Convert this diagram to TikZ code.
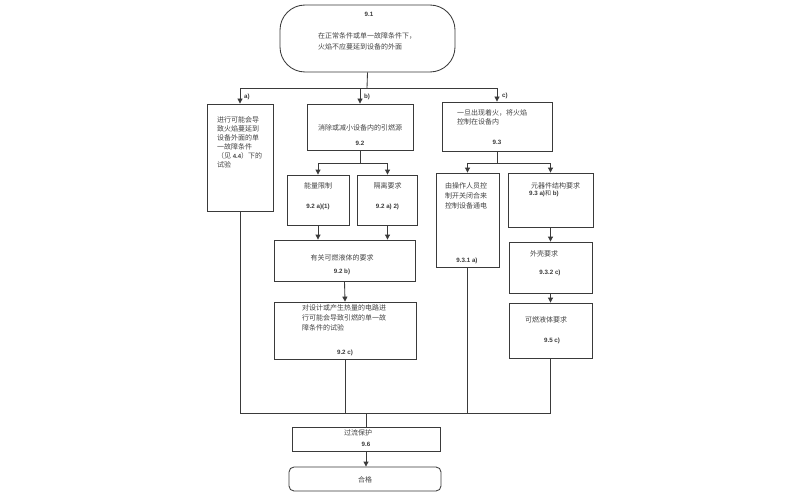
\documentclass[tikz,border=0pt]{standalone}
\usepackage{fontspec}
\setmainfont{Liberation Sans}
\newfontfamily\cjk{Noto Sans CJK SC}
\usetikzlibrary{arrows.meta}
\definecolor{lnc}{HTML}{3A3A3A}
\definecolor{txc}{HTML}{444444}
\begin{document}
\begin{tikzpicture}[x=1pt,y=-1pt,
 box/.style={draw=lnc,line width=0.85pt,rectangle,inner sep=0pt},
 conn/.style={draw=lnc,line width=0.85pt},
 arr/.style={conn,-{Triangle[length=5pt,width=5pt]}},
 zh/.style={text=txc,font=\cjk\fontsize{7}{10}\selectfont,inner sep=0pt,align=left},
 num/.style={text=lnc,font=\bfseries\fontsize{6.2}{7}\selectfont,inner sep=0pt},
]
\useasboundingbox (0,0) rectangle (800,500);
\fill[white] (0,0) rectangle (800,500);

% top
\node[box,rounded corners=25pt,minimum width=175pt,minimum height=67pt] (t91) at (367.5,38.5) {};
\node[num] (t91n) at (369,14) {9.1};
\node[zh,anchor=west,font=\cjk\fontsize{7}{10.5}\selectfont] (t91t) at (318,41.5) {在正常条件或单一故障条件下，\\火焰不应蔓延到设备的外面};

% level 1 boxes
\node[box,minimum width=66pt,minimum height=107pt] (ba) at (240,157.5) {};
\node[zh,anchor=west,font=\cjk\fontsize{7}{9}\selectfont] (bat) at (217,142.5) {进行可能会导\\致火焰蔓延到\\设备外面的单\\一故障条件\\（见 {\rmfamily\bfseries\fontsize{6}{9}\selectfont 4.4}）下的\\试验};

\node[box,minimum width=106pt,minimum height=46pt] (bb) at (360,127) {};
\node[zh] (bbt) at (360,128) {消除或减小设备内的引燃源};
\node[num] (bbn) at (360,143) {9.2};

\node[box,minimum width=110pt,minimum height=49pt] (bc) at (497,126.5) {};
\node[zh,anchor=west,font=\cjk\fontsize{7}{9}\selectfont] (bct) at (457,117.5) {一旦出现着火，将火焰\\控制在设备内};
\node[num] (bcn) at (497,142) {9.3};

% labels
\node[num,anchor=west] (la) at (244,97) {a)};
\node[num,anchor=west] (lb) at (364,97) {b)};
\node[num,anchor=west] (lc) at (502,96) {c)};

% junctions
\coordinate (j1) at (367,88);
\coordinate (jb) at (360,163);
\coordinate (jc) at (497,163);
\coordinate (bl) at (240,413);

\draw[conn] (t91.south) -- (j1);
\draw[arr] (j1) -| (ba.north);
\draw[arr] (j1) -| (bb.north);
\draw[arr] (j1) -| (bc.north);

% b branch
\node[box,minimum width=62pt,minimum height=50pt] (e1) at (318,200) {};
\node[zh] (e1t) at (318,186) {能量限制};
\node[num] (e1n) at (318,207) {9.2 a)(1)};
\node[box,minimum width=60pt,minimum height=50pt] (e2) at (387.5,200) {};
\node[zh] (e2t) at (387.5,186) {隔离要求};
\node[num] (e2n) at (387.5,207) {9.2 a) 2)};

\draw[conn] (bb.south) -- (jb);
\draw[arr] (jb) -| (e1.north);
\draw[arr] (jb) -| (e2.north);

\node[box,minimum width=141pt,minimum height=41pt] (f) at (344.5,260.5) {};
\node[zh] (ft) at (342,258) {有关可燃液体的要求};
\node[num] (fn) at (342,272) {9.2 b)};
\draw[arr] (e1.south) -- (e1.south |- f.north);
\draw[arr] (e2.south) -- (e2.south |- f.north);

\node[box,minimum width=142pt,minimum height=57pt] (g) at (345,330.5) {};
\node[zh,anchor=north west] (gt) at (302,304) {对设计或产生热量的电路进\\行可能会导致引燃的单一故\\障条件的试验};
\node[num] (gn) at (345,353) {9.2 c)};
\draw[arr] (f.south) -- (g.north);

% c branch
\node[box,minimum width=63pt,minimum height=94pt] (h) at (467.5,220) {};
\node[zh,anchor=north west] (ht) at (445,182) {由操作人员控\\制开关闭合来\\控制设备通电};
\node[num] (hn) at (467,261) {9.3.1 a)};

\node[box,minimum width=85pt,minimum height=54pt] (i) at (550.5,200) {};
\node[zh,anchor=west] (it) at (531,186) {元器件结构要求};
\node[num,anchor=west] (in) at (529,194) {9.3 a){\cjk\mdseries\fontsize{6}{7}\selectfont 和} b)};

\node[box,minimum width=83pt,minimum height=51pt] (jj) at (550.5,267.5) {};
\node[zh,anchor=west] (jt) at (530,254) {外壳要求};
\node[num] (jn) at (550,273) {9.3.2 c)};

\node[box,minimum width=83pt,minimum height=55pt] (k) at (550.5,330.5) {};
\node[zh,anchor=west] (kt) at (525,320) {可燃液体要求};
\node[num] (kn) at (552,341) {9.5 c)};

\draw[conn] (bc.south) -- (jc);
\draw[arr] (jc) -| (h.north);
\draw[arr] (jc) -| (i.north);
\draw[arr] (i.south) -- (jj.north);
\draw[arr] (jj.south) -- (k.north);

% bottom
\node[box,minimum width=148pt,minimum height=24pt] (oc) at (366,439) {};
\node[zh] (oct) at (358,433) {过流保护};
\node[num] (ocn) at (366,444) {9.6};
\node[box,rounded corners=5pt,minimum width=152pt,minimum height=24pt] (ok) at (365,479) {};
\node[zh] (okt) at (365,480) {合格};

\draw[conn] (ba.south) -- (bl) -- (bl -| k.south) -- (k.south);
\draw[conn] (g.south) -- (g.south |- bl);
\draw[conn] (h.south) -- (h.south |- bl);
\draw[conn] (oc.north) -- (oc.north |- bl);
\draw[arr] (oc.south) -- (oc.south |- ok.north);
\end{tikzpicture}
\end{document}
